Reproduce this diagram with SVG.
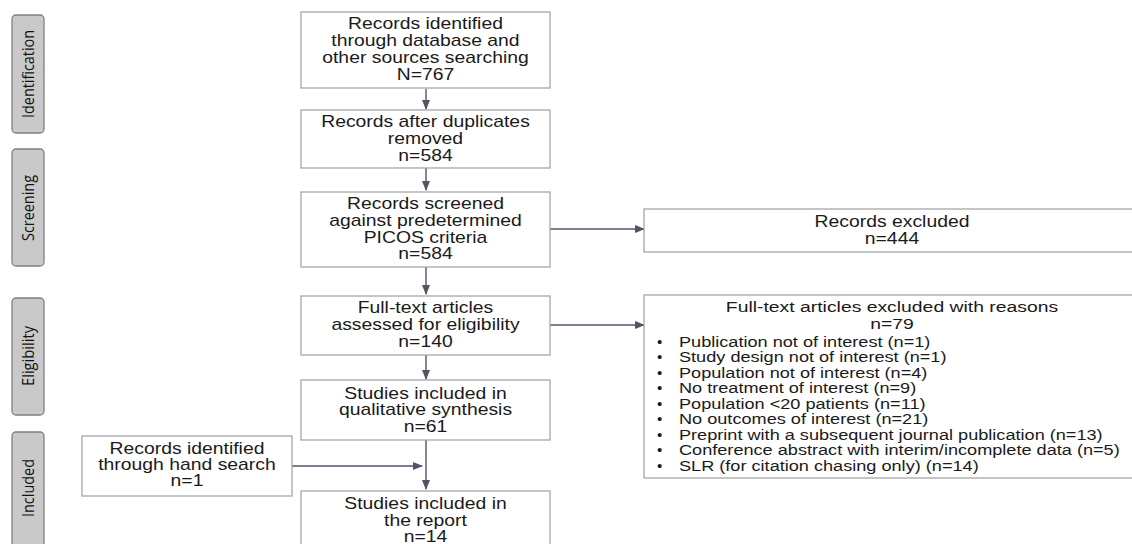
<svg xmlns="http://www.w3.org/2000/svg" width="1132" height="544" viewBox="0 0 1132 544">
<style>
.box{fill:#fff;stroke:#a6a6a6;stroke-width:1.3}
.side{fill:#c9c9c9;stroke:#808080;stroke-width:1.3}
.t{font-family:"Liberation Sans",Arial,sans-serif;font-size:16px;fill:#1a1a1a;text-anchor:middle}
.t2{font-family:"Liberation Sans",Arial,sans-serif;font-size:14.5px;fill:#1a1a1a;text-anchor:middle}
.l{font-family:"Liberation Sans",Arial,sans-serif;font-size:15px;fill:#1a1a1a}
.s{font-family:"Open Sans","Liberation Sans",sans-serif;font-size:17px;fill:#111;text-anchor:middle}
.c{stroke:#4d5566;stroke-width:1.4;fill:none;marker-end:url(#ah)}
</style>
<defs>
<marker id="ah" markerWidth="10" markerHeight="8" refX="9" refY="4" orient="auto" markerUnits="userSpaceOnUse">
<path d="M0,0 L10,4 L0,8 z" fill="#4d5566"/>
</marker>
</defs>
<rect width="1132" height="544" fill="#fff"/>
<g id="stage-identification">
<rect class="side" x="12" y="15" width="32" height="118" rx="4"/>
<text class="s" transform="translate(34,74) rotate(-90)" textLength="88" lengthAdjust="spacingAndGlyphs">Identification</text>
</g>
<g id="stage-screening">
<rect class="side" x="12" y="149" width="32" height="117" rx="4"/>
<text class="s" transform="translate(34,208) rotate(-90)" textLength="66" lengthAdjust="spacingAndGlyphs">Screening</text>
</g>
<g id="stage-eligibility">
<rect class="side" x="12" y="298" width="32" height="117" rx="4"/>
<text class="s" transform="translate(34,356) rotate(-90)" textLength="60" lengthAdjust="spacingAndGlyphs">Eligibility</text>
</g>
<g id="stage-included">
<rect class="side" x="12" y="432" width="32" height="130" rx="4"/>
<text class="s" transform="translate(34,488) rotate(-90)" textLength="58" lengthAdjust="spacingAndGlyphs">Included</text>
</g>
<g id="connectors">
<path class="c" d="M426,89 V109"/>
<path class="c" d="M426,168 V190"/>
<path class="c" d="M426,267 V294"/>
<path class="c" d="M426,355 V379"/>
<path class="c" d="M426,440 V489"/>
<path class="c" d="M292,466 H422"/>
<path class="c" d="M550,229 H644"/>
<path class="c" d="M550,325 H644"/>
</g>
<g id="n1">
<rect class="box" x="301" y="12" width="249" height="76"/>
<g transform="matrix(1.21 0 0 1 -89.355 0)">
<text class="t" x="425.5" y="29">Records identified</text>
<text class="t" x="425.5" y="46">through database and</text>
<text class="t" x="425.5" y="63">other sources searching</text>
<text class="t" x="425.5" y="80">N=767</text>
</g>
</g>
<g id="n2">
<rect class="box" x="301" y="110" width="249" height="58"/>
<g transform="matrix(1.21 0 0 1 -89.355 0)">
<text class="t" x="425.5" y="127">Records after duplicates</text>
<text class="t" x="425.5" y="144">removed</text>
<text class="t" x="425.5" y="161">n=584</text>
</g>
</g>
<g id="n3">
<rect class="box" x="301" y="192" width="249" height="75"/>
<g transform="matrix(1.21 0 0 1 -89.355 0)">
<text class="t" x="425.5" y="209">Records screened</text>
<text class="t" x="425.5" y="226">against predetermined</text>
<text class="t" x="425.5" y="243">PICOS criteria</text>
<text class="t" x="425.5" y="259">n=584</text>
</g>
</g>
<g id="n4">
<rect class="box" x="301" y="296" width="249" height="59"/>
<g transform="matrix(1.21 0 0 1 -89.355 0)">
<text class="t" x="425.5" y="313">Full-text articles</text>
<text class="t" x="425.5" y="330">assessed for eligibility</text>
<text class="t" x="425.5" y="347">n=140</text>
</g>
</g>
<g id="n5">
<rect class="box" x="301" y="380" width="249" height="60"/>
<g transform="matrix(1.21 0 0 1 -89.355 0)">
<text class="t" x="425.5" y="399">Studies included in</text>
<text class="t" x="425.5" y="415">qualitative synthesis</text>
<text class="t" x="425.5" y="432">n=61</text>
</g>
</g>
<g id="n6">
<rect class="box" x="301" y="491" width="249" height="70"/>
<g transform="matrix(1.21 0 0 1 -89.355 0)">
<text class="t" x="425.5" y="509">Studies included in</text>
<text class="t" x="425.5" y="526">the report</text>
<text class="t" x="425.5" y="542">n=14</text>
</g>
</g>
<g id="hand">
<rect class="box" x="82" y="436" width="210" height="60"/>
<g transform="matrix(1.21 0 0 1 -39.27 0)">
<text class="t" x="187" y="454">Records identified</text>
<text class="t" x="187" y="470">through hand search</text>
<text class="t" x="187" y="486">n=1</text>
</g>
</g>
<g id="excl1">
<rect class="box" x="644" y="209" width="500" height="43"/>
<g transform="matrix(1.21 0 0 1 -187.32 0)">
<text class="t" x="892" y="227">Records excluded</text>
<text class="t" x="892" y="244">n=444</text>
</g>
</g>
<g id="excl2">
<rect class="box" x="644" y="295" width="500" height="183"/>
<g transform="matrix(1.335 0 0 1 -298.82 0)">
<text class="t2" x="892" y="312.5">Full-text articles excluded with reasons</text>
<text class="t2" x="892" y="329">n=79</text>
</g>
<g class="l">
<text x="657" y="347">•</text>
<text x="657" y="362">•</text>
<text x="657" y="378">•</text>
<text x="657" y="393">•</text>
<text x="657" y="409">•</text>
<text x="657" y="424">•</text>
<text x="657" y="440">•</text>
<text x="657" y="455">•</text>
<text x="657" y="471">•</text>
<g transform="matrix(1.21 0 0 1 -142.59 0)">
<text x="679" y="347">Publication not of interest (n=1)</text>
<text x="679" y="362">Study design not of interest (n=1)</text>
<text x="679" y="378">Population not of interest (n=4)</text>
<text x="679" y="393">No treatment of interest (n=9)</text>
<text x="679" y="409">Population &lt;20 patients (n=11)</text>
<text x="679" y="424">No outcomes of interest (n=21)</text>
<text x="679" y="440">Preprint with a subsequent journal publication (n=13)</text>
<text x="679" y="455">Conference abstract with interim/incomplete data (n=5)</text>
<text x="679" y="471">SLR (for citation chasing only) (n=14)</text>
</g>
</g>
</g>
</svg>
